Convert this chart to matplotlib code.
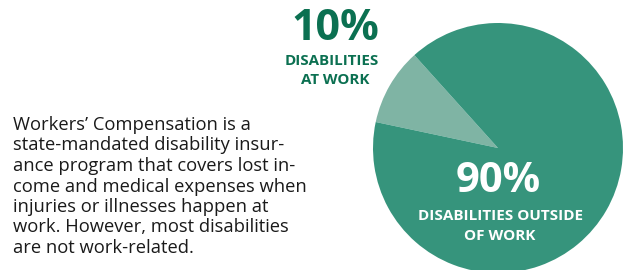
import matplotlib
matplotlib.use("Agg")
import matplotlib.pyplot as plt

labels = ["Disabilities at work", "Disabilities outside of work"]
shares = [10, 90]
colors = ["#7fb4a4", "#36947c"]
para_lines = [
    "Workers\u2019 Compensation is a",
    "state-mandated disability insur-",
    "ance program that covers lost in-",
    "come and medical expenses when",
    "injuries or illnesses happen at",
    "work. However, most disabilities",
    "are not work-related.",
]

W, H = 627, 270
fig = plt.figure(figsize=(W/100, H/100), dpi=100)
fig.patch.set_facecolor("white")

cx, cy, r = 498, 148, 125
ax = fig.add_axes([(cx - r)/W, (H - cy - r)/H, 2*r/W, 2*r/H])
ax.pie(shares, colors=colors, startangle=132, counterclock=True,
       wedgeprops=dict(linewidth=0), radius=1)
ax.set_xlim(-1, 1)
ax.set_ylim(-1, 1)
ax.set_aspect("equal")
ax.axis("off")
for p in ax.patches:
    p.set_clip_on(False)

font = "Open Sans"
dark = "#0b7051"

def fx(x):
    return x / W

def fy(y):
    return 1 - y / H

fig.text(fx(335), fy(28), f"{shares[0]}%", ha="center", va="center",
         fontsize=31, fontweight="bold", color=dark, family=font)
fig.text(fx(332), fy(61), "DISABILITIES", ha="center", va="center",
         fontsize=10.9, fontweight="bold", color=dark, family=font)
fig.text(fx(335), fy(80), "AT WORK", ha="center", va="center",
         fontsize=10.9, fontweight="bold", color=dark, family=font)

fig.text(fx(498), fy(182), f"{shares[1]}%", ha="center", va="center",
         fontsize=30, fontweight="bold", color="white", family=font)
fig.text(fx(500), fy(216), "DISABILITIES OUTSIDE", ha="center", va="center",
         fontsize=11, fontweight="bold", color="white", family=font)
fig.text(fx(500), fy(236), "OF WORK", ha="center", va="center",
         fontsize=11, fontweight="bold", color="white", family=font)

y0 = 125
step = 20.5
for i, line in enumerate(para_lines):
    fig.text(fx(13), fy(y0 + i*step), line, ha="left", va="center",
             fontsize=13.2, color="#1a1a1a", family=font)

fig.savefig("out.png", dpi=100, facecolor="white")
